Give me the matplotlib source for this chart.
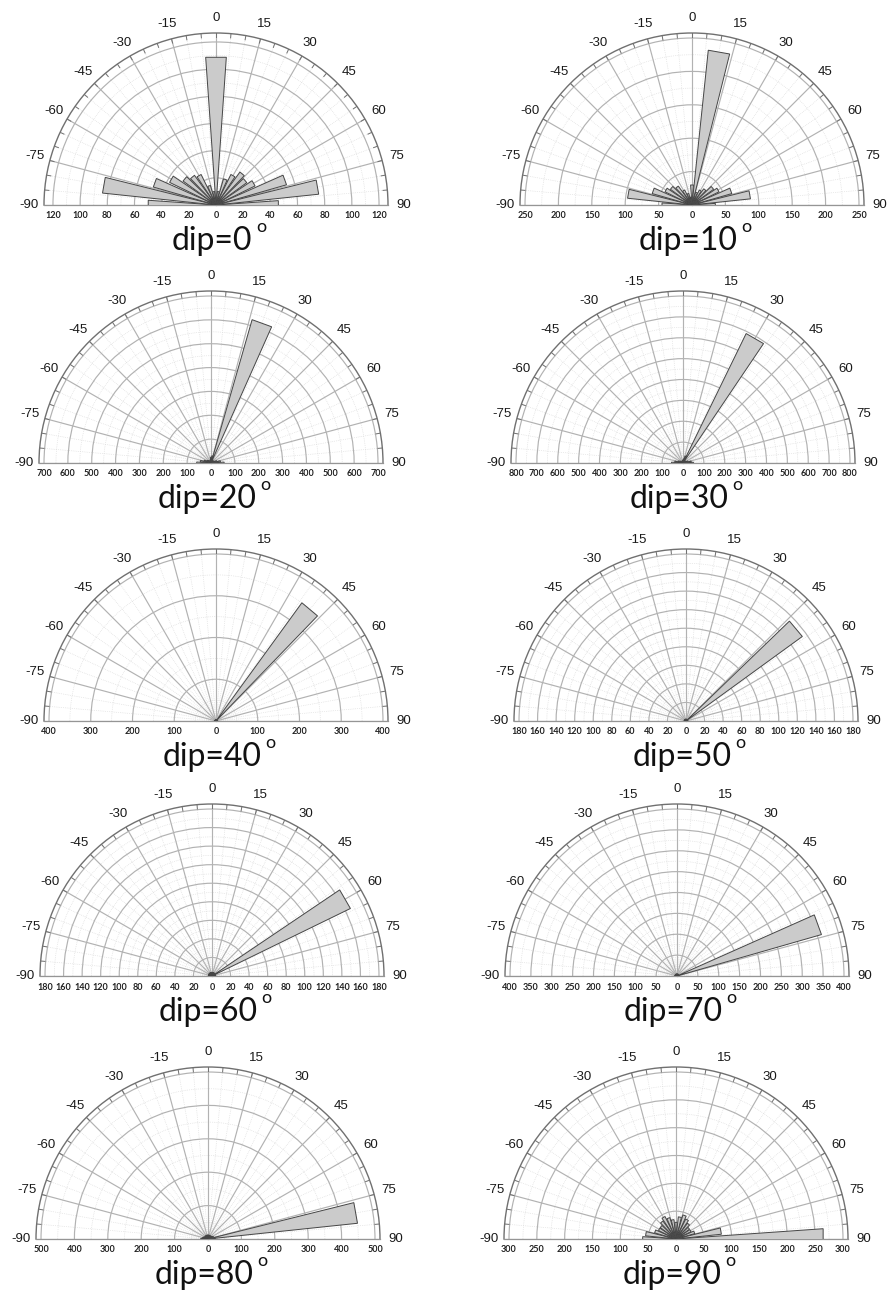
import numpy as np
import matplotlib
matplotlib.use("Agg")
import matplotlib.pyplot as plt
from matplotlib.transforms import offset_copy

plt.rcParams['font.family'] = ['Liberation Sans', 'DejaVu Sans']

# strike bins (deg), one wedge per bin
bin_centers = [-90, -80, -70, -60, -50, -40, -30, -20, -10, 0,
               10, 20, 30, 40, 50, 60, 70, 80, 90]
angle_ticks = [-90, -75, -60, -45, -30, -15, 0, 15, 30, 45, 60, 75, 90]

dips = [0, 10, 20, 30, 40, 50, 60, 70, 80, 90]

counts_dip0 = [50, 84, 48, 38, 30, 27, 25, 15, 10, 109, 10, 20, 25, 30, 28, 32, 54, 76, 46]
counts_dip10 = [45, 97, 62, 45, 40, 35, 25, 18, 12, 30, 233, 20, 25, 30, 40, 45, 62, 88, 35]
counts_dip20 = [60, 45, 30, 20, 15, 12, 10, 10, 15, 25, 30, 625, 15, 12, 12, 15, 25, 40, 55]
counts_dip30 = [55, 40, 25, 18, 12, 10, 10, 10, 12, 15, 20, 35, 690, 15, 12, 15, 25, 40, 50]
counts_dip40 = [4, 3, 3, 3, 3, 3, 3, 3, 3, 3, 3, 3, 3, 350, 3, 3, 3, 3, 4]
counts_dip50 = [2, 2, 2, 2, 2, 2, 2, 2, 2, 2, 2, 2, 2, 2, 155, 2, 2, 2, 2]
counts_dip60 = [4, 4, 4, 4, 4, 4, 4, 4, 4, 4, 4, 4, 4, 4, 4, 166, 4, 4, 4]
counts_dip70 = [6, 5, 5, 5, 5, 5, 5, 5, 5, 5, 5, 5, 5, 5, 5, 5, 360, 5, 6]
counts_dip80 = [22, 18, 15, 12, 12, 12, 12, 12, 12, 12, 12, 12, 12, 12, 12, 15, 18, 450, 22]
counts_dip90 = [60, 55, 40, 35, 35, 40, 45, 40, 35, 30, 40, 45, 40, 35, 30, 30, 35, 82, 265]

counts = [counts_dip0, counts_dip10, counts_dip20, counts_dip30, counts_dip40,
          counts_dip50, counts_dip60, counts_dip70, counts_dip80, counts_dip90]

rticks_dip0 = [0, 20, 40, 60, 80, 100, 120]
rticks_dip10 = [0, 50, 100, 150, 200, 250]
rticks_dip20 = [0, 100, 200, 300, 400, 500, 600, 700]
rticks_dip30 = [0, 100, 200, 300, 400, 500, 600, 700, 800]
rticks_dip40 = [0, 100, 200, 300, 400]
rticks_dip50 = [0, 20, 40, 60, 80, 100, 120, 140, 160, 180]
rticks_dip60 = [0, 20, 40, 60, 80, 100, 120, 140, 160, 180]
rticks_dip70 = [0, 50, 100, 150, 200, 250, 300, 350, 400]
rticks_dip80 = [0, 100, 200, 300, 400, 500]
rticks_dip90 = [0, 50, 100, 150, 200, 250, 300]

rticks = [rticks_dip0, rticks_dip10, rticks_dip20, rticks_dip30, rticks_dip40,
          rticks_dip50, rticks_dip60, rticks_dip70, rticks_dip80, rticks_dip90]

# page layout in pixels: centre x of each half disc, baseline y of each row
W, H = 894, 1301
col_x = [[216, 692], [211, 683], [216, 686], [212, 677], [208, 676]]
row_y = [205, 463, 721, 976, 1239]
R = 172
half_w = 4  # half width of a wedge, deg

fig = plt.figure(figsize=(W / 100, H / 100), dpi=100)

for k, dip in enumerate(dips):
    row, col = divmod(k, 2)
    cx = col_x[row][col]
    by = row_y[row]
    # square box; the half disc sits in its middle band
    ax = fig.add_axes([(cx - R) / W, 1 - (by + 0.5 * R) / H, 2 * R / W, 2 * R / H],
                      projection='polar')
    ax.patch.set_alpha(0)
    ax.set_theta_zero_location('N')
    ax.set_theta_direction(-1)
    ax.set_thetamin(-90)
    ax.set_thetamax(90)

    ticks = rticks[k]
    rmax = ticks[-1] * (1.055 if dip == 0 else 1.03)
    ax.set_rlim(0, rmax)

    # major grid
    ax.set_thetagrids(angle_ticks, labels=[''] * len(angle_ticks))
    ax.set_rgrids(ticks[1:], labels=[''] * (len(ticks) - 1))
    ax.grid(True, color='#b2b2b2', lw=0.85, ls='-')
    ax.tick_params(length=0)
    ax.spines['polar'].set_color('#707070')
    ax.spines['polar'].set_linewidth(1.0)
    for s in ('start', 'end'):
        ax.spines[s].set_color('#959595')
        ax.spines[s].set_linewidth(0.9)

    # minor grid
    step = ticks[1] - ticks[0]
    arc = np.linspace(-np.pi / 2, np.pi / 2, 300)
    for rr in np.arange(step / 2, rmax, step):
        ax.plot(arc, np.full_like(arc, rr), color='#d8d8d8', lw=0.5, ls=':', zorder=0.5)
    for a in range(-85, 90, 5):
        if a % 15:
            t = np.deg2rad(a)
            ax.plot([t, t], [0, rmax], color='#d8d8d8', lw=0.5, ls=':', zorder=0.5)

    # small ticks on the outer arc
    for a in range(-90, 91, 5):
        t = np.deg2rad(a)
        ax.plot([t, t], [rmax * 0.975, rmax], color='#707070', lw=0.7)

    # rose wedges
    for c, v in zip(bin_centers, counts[k]):
        t1 = np.deg2rad(c - half_w)
        t2 = np.deg2rad(c + half_w)
        ax.fill([0, t1, t2, 0], [0, v, v, 0], facecolor='#cbcbcb',
                edgecolor='#454545', lw=0.7, zorder=3)

    # angle labels
    for a in angle_ticks:
        ax.text(np.deg2rad(a), rmax * 1.09, str(a), ha='center', va='center',
                fontsize=9.5, color='#1a1a1a')

    # radial labels along the baseline
    below = offset_copy(ax.transData, fig=fig, y=-11, units='dots')
    for v in ticks:
        sides = [90] if v == 0 else [-90, 90]
        for sd in sides:
            ax.text(np.deg2rad(sd), v, str(v), transform=below, ha='center',
                    va='center', fontsize=6.5, fontweight='bold', color='#222222',
                    family=['Lato', 'DejaVu Sans'])

    # panel title with a raised degree ring
    title = fig.text((cx - 4) / W, 1 - (by + 45) / H, 'dip=%d' % dip,
                     ha='center', va='baseline', fontsize=23,
                     family=['Lato', 'DejaVu Sans'], color='#111111')
    ax.annotate('o', xy=(1, 1), xycoords=title, xytext=(3, 5),
                textcoords='offset points', ha='left', va='top', fontsize=13,
                family=['Lato', 'DejaVu Sans'], color='#111111')

fig.savefig('out.png', dpi=100, facecolor='white')
